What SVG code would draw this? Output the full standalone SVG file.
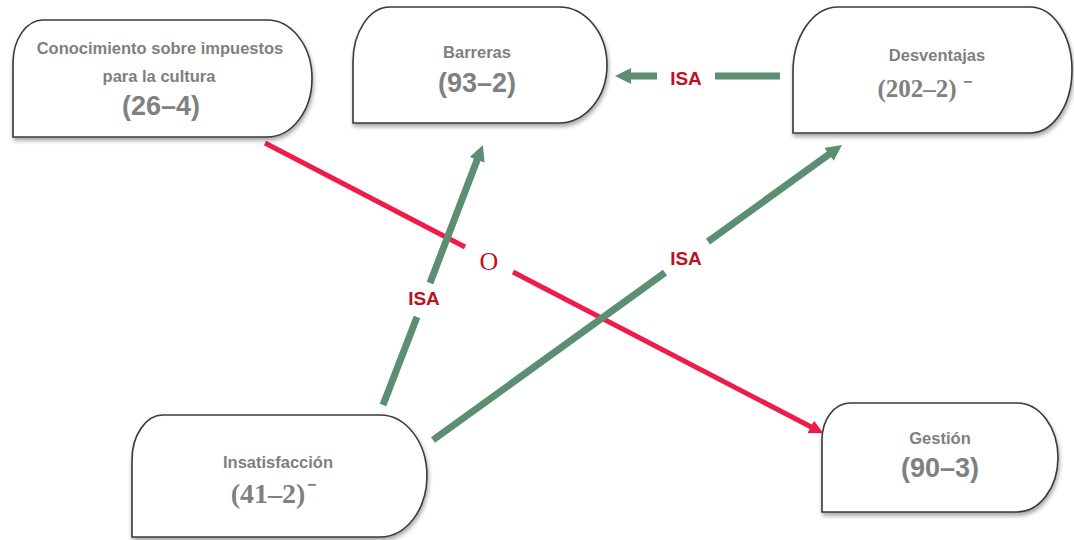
<svg xmlns="http://www.w3.org/2000/svg" width="1074" height="540" viewBox="0 0 1074 540">
<style>
.node{fill:#fff;stroke:#3a3a3a;stroke-width:1.6;filter:url(#sh)}
.t{font-family:"Liberation Sans",Arial,sans-serif;font-weight:bold;fill:#7f7f7f;text-anchor:middle;font-size:16.5px}
.n{font-family:"Liberation Sans",Arial,sans-serif;font-weight:bold;fill:#808080;text-anchor:middle;font-size:27px}
.ns{font-family:"Liberation Serif","Times New Roman",serif;font-weight:bold;fill:#808080;text-anchor:middle;font-size:28px}
.sup{font-family:"Liberation Sans",Arial,sans-serif;font-weight:bold;fill:#808080;font-size:16px}
.g{stroke:#5b8e73;stroke-width:7;fill:none}
.r{stroke:#ee1c4b;stroke-width:5;fill:none}
.lab{font-family:"Liberation Sans",Arial,sans-serif;font-weight:bold;fill:#c0101e;text-anchor:middle;font-size:19px}
.labo{font-family:"Liberation Serif","Times New Roman",serif;fill:#c0101e;text-anchor:middle;font-size:26px}
</style>
<defs>
<filter id="sh" x="-10%" y="-10%" width="120%" height="130%">
<feDropShadow dx="1" dy="3" stdDeviation="2" flood-color="#000" flood-opacity="0.35"/>
</filter>
<marker id="ag" markerUnits="userSpaceOnUse" markerWidth="20" markerHeight="20" refX="8" refY="8" orient="auto">
<path d="M0,0 L16,8 L0,16 Z" fill="#5b8e73"/>
</marker>
<marker id="ar" markerUnits="userSpaceOnUse" markerWidth="18" markerHeight="18" refX="7" refY="7" orient="auto">
<path d="M0,0 L14,7 L0,14 Z" fill="#ee1c4b"/>
</marker>
</defs>
<g id="connectors">
<line class="r" x1="265" y1="143" x2="465" y2="247"/>
<line class="r" x1="513" y1="272" x2="817" y2="430" marker-end="url(#ar)"/>
<line class="g" x1="383" y1="405" x2="417" y2="317"/>
<line class="g" x1="430" y1="283" x2="480" y2="152.5" marker-end="url(#ag)"/>
<line class="g" x1="433" y1="440" x2="665" y2="272.7"/>
<line class="g" x1="708" y1="241.6" x2="835.5" y2="149.7" marker-end="url(#ag)"/>
<line class="g" x1="780" y1="76" x2="715" y2="76"/>
<line class="g" x1="657" y1="76" x2="623" y2="76" marker-end="url(#ag)"/>
<text class="labo" x="489" y="270">O</text>
<text class="lab" x="424" y="305">ISA</text>
<text class="lab" x="686" y="265">ISA</text>
<text class="lab" x="686" y="85">ISA</text>
</g>
<g id="node-conocimiento">
<path class="node" d="M13,137 L13,63 A30,43 0 0 1 43,20 L267,20 A45,58.5 0 0 1 267,137 Z"/>
<text class="t" x="160" y="54">Conocimiento sobre impuestos</text>
<text class="t" x="159" y="82">para la cultura</text>
<text class="n" x="161" y="115">(26–4)</text>
</g>
<g id="node-barreras">
<path class="node" d="M353,123 L353,62 A37,55 0 0 1 390,7 L559,7 A48,58 0 0 1 559,123 Z"/>
<text class="t" x="477" y="58">Barreras</text>
<text class="n" x="477" y="92">(93–2)</text>
</g>
<g id="node-desventajas">
<path class="node" d="M793,133 L793,72 A45,65 0 0 1 838,7 L1030,7 A42,63 0 0 1 1030,133 Z"/>
<text class="t" x="937" y="61">Desventajas</text>
<text class="ns" x="917" y="97" style="font-size:25px">(202–2)</text>
<text class="sup" x="963" y="87">−</text>
</g>
<g id="node-insatisfaccion">
<path class="node" d="M132,537 L132,460 A31,45 0 0 1 163,415 L380,415 A47,61 0 0 1 380,537 Z"/>
<text class="t" x="278" y="468">Insatisfacción</text>
<text class="ns" x="268" y="503">(41–2)</text>
<text class="sup" x="307" y="490">−</text>
</g>
<g id="node-gestion">
<path class="node" d="M822,512 L822,440 A28,37 0 0 1 850,403 L1017,403 A41,54.5 0 0 1 1017,512 Z"/>
<text class="t" x="940" y="444">Gestión</text>
<text class="n" x="940" y="477">(90–3)</text>
</g>
</svg>
